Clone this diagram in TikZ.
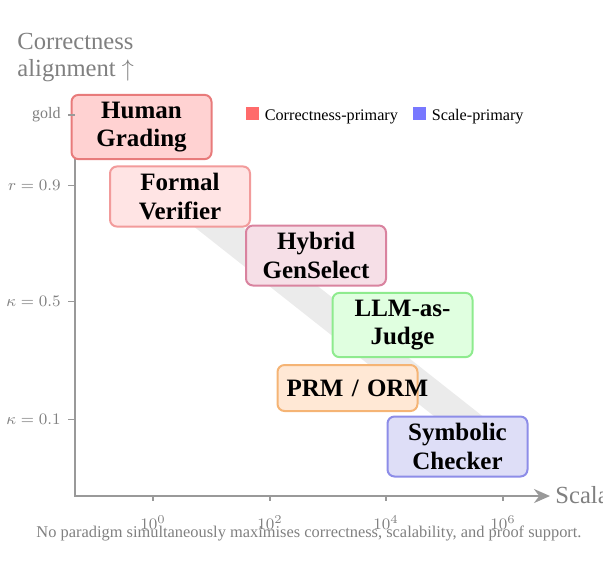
\documentclass[tikz,border=0pt]{standalone}
\usepackage{fontspec}
\setmainfont{Liberation Serif}
\usepackage{xcolor}
\usepackage{tikz}
\usetikzlibrary{positioning,arrows.meta,backgrounds}

\definecolor{humanfill}{HTML}{FFD2D2}
\definecolor{humandraw}{HTML}{E87B7B}
\definecolor{formalfill}{HTML}{FFE4E4}
\definecolor{formaldraw}{HTML}{F29B9B}
\definecolor{hybridfill}{HTML}{F6DFE7}
\definecolor{hybriddraw}{HTML}{D9839F}
\definecolor{llmfill}{HTML}{E0FFE0}
\definecolor{llmdraw}{HTML}{8EEB8E}
\definecolor{prmfill}{HTML}{FFE8D5}
\definecolor{prmdraw}{HTML}{F5B475}
\definecolor{symfill}{HTML}{DEDEF7}
\definecolor{symdraw}{HTML}{8D8DE8}
\definecolor{legred}{HTML}{FF6B6B}
\definecolor{legblue}{HTML}{7878FF}

\begin{document}
\begin{tikzpicture}[x=0.5pt,y=-0.5pt,>={Stealth[length=8pt,width=7pt]},
	paradigm/.style={draw,line width=1pt,rounded corners=3.5pt,text width=61pt,inner xsep=4.5pt,inner ysep=3.5pt,minimum height=23pt,align=center,font=\fontsize{12.5}{14.2}\selectfont\bfseries},
	axis/.style={black!40,line width=1pt},
	ticklab/.style={black!50,font=\fontsize{8}{9}\selectfont},
	axislab/.style={black!50,font=\fontsize{12.3}{13.3}\selectfont,align=left},
	legbox/.style={minimum size=6.5pt,inner sep=0pt},
	legtext/.style={inner sep=0pt,font=\fontsize{8.1}{9}\selectfont}]
			\useasboundingbox (0,0) rectangle (603,570);

			% paradigms
			\node[paradigm,fill=humanfill,draw=humandraw] (human) at (141.5,127) {Human\\Grading};
			\node[paradigm,fill=formalfill,draw=formaldraw] (formal) at (180,196.5) {Formal\\Verifier};
			\node[paradigm,fill=hybridfill,draw=hybriddraw] (hybrid) at (316,255.5) {Hybrid\\GenSelect};
			\node[paradigm,fill=llmfill,draw=llmdraw] (llm) at (402.5,325) {LLM-as-\\Judge};
			\node[paradigm,fill=prmfill,draw=prmdraw] (prm) at (347.5,388) {PRM~/~ORM};
			\node[paradigm,fill=symfill,draw=symdraw] (symbolic) at (457.5,446.5) {Symbolic\\Checker};

			% trade-off band
			\begin{scope}[on background layer]
			\draw[black!8,line width=15pt,shorten >=-10pt] (formal.center) -- (symbolic.north);
			\end{scope}

			% axes
			\begin{scope}[on background layer]
			\draw[axis,->] (75,100) -- (75,496) -- (550,496);
			\end{scope}
			\node[axislab,anchor=north west,inner sep=0pt] (ylab) at (17,33) {Correctness\\alignment $\uparrow$};
			\node[axislab,anchor=base west,inner sep=0pt] (xlab) at (555,503) {Scalability};

			% y ticks
			\draw[axis,line width=0.6pt] (68,115) -- (75,115) (68,185.7) -- (75,185.7) (68,301.7) -- (75,301.7) (68,419.3) -- (75,419.3);
			\node[ticklab,anchor=east,inner sep=0pt] (gold) at (61,115) {gold};
			\node[ticklab,anchor=east,inner sep=0pt] (r09) at (61,185.7) {$r=0.9$};
			\node[ticklab,anchor=east,inner sep=0pt] (k05) at (61,301.7) {$\kappa=0.5$};
			\node[ticklab,anchor=east,inner sep=0pt] (k01) at (61,419.3) {$\kappa=0.1$};

			% x ticks
			\draw[axis,line width=0.6pt] (153,496) -- (153,501) (270,496) -- (270,501) (386,496) -- (386,501) (503,496) -- (503,501);
			\node[ticklab,anchor=base] (x0) at (153,529) {$10^0$};
			\node[ticklab,anchor=base] (x2) at (270,529) {$10^2$};
			\node[ticklab,anchor=base] (x4) at (386,529) {$10^4$};
			\node[ticklab,anchor=base] (x6) at (503,529) {$10^6$};

			% legend
			\node[legbox,fill=legred] (legc) at (252.5,113.5) {};
			\node[legtext,right=2.5pt of legc.south east,anchor=base west] (legctext) {Correctness-primary};
			\node[legbox,fill=legblue] (legs) at (419.5,113.5) {};
			\node[legtext,right=2.5pt of legs.south east,anchor=base west] (legstext) {Scale-primary};

			\node[black!50,anchor=base,font=\fontsize{8.2}{10}\selectfont] (caption) at (309,537) {No paradigm simultaneously maximises correctness, scalability, and proof support.};
			\end{tikzpicture}
\end{document}
